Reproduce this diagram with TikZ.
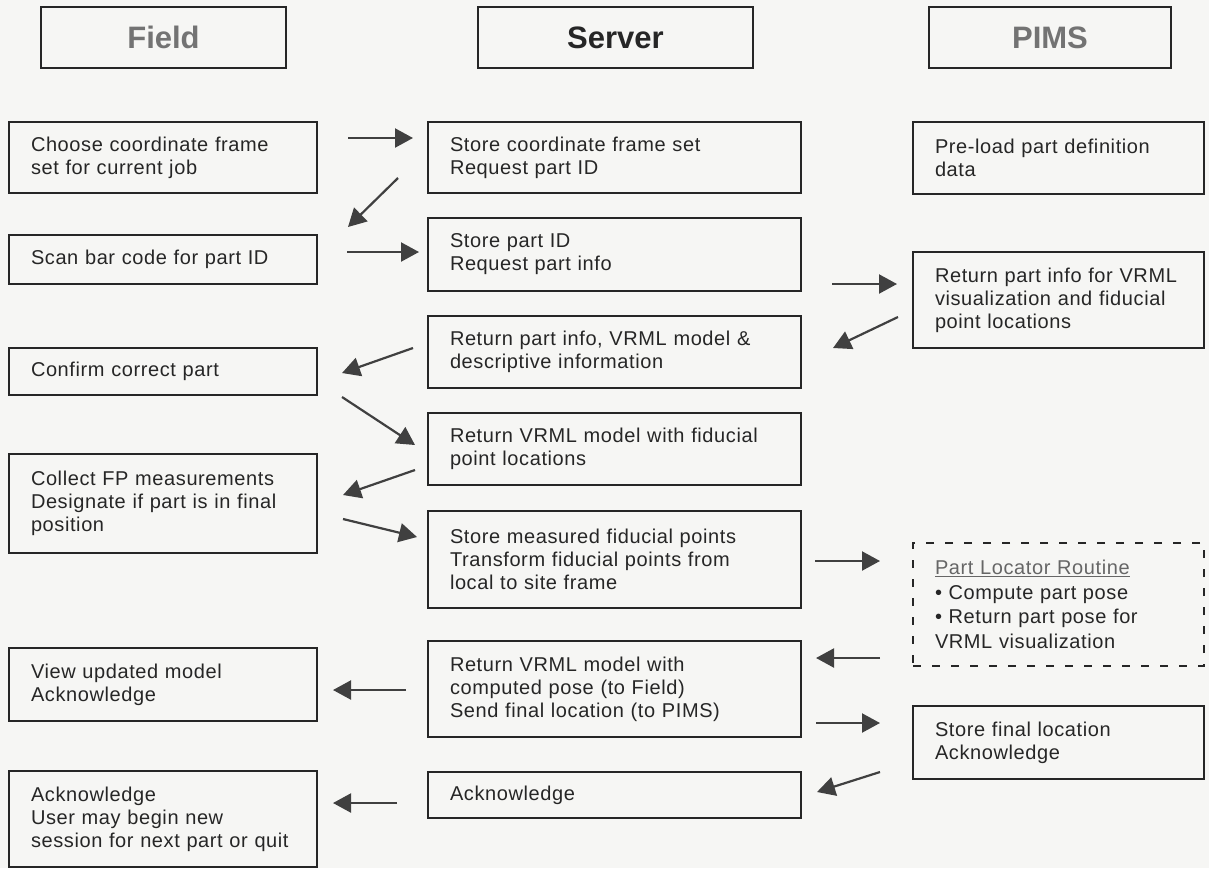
\documentclass[tikz,border=0pt]{standalone}
\usepackage{fontspec}
\setmainfont{Liberation Sans}
\newfontfamily\bodyfont{Liberation Sans}[LetterSpace=3.0]
\usetikzlibrary{arrows.meta,positioning}
\definecolor{paper}{RGB}{246,246,244}
\definecolor{ink}{RGB}{38,38,38}

\begin{document}
\begin{tikzpicture}[
  x=1pt, y=-1pt,
  box/.style={draw=ink, line width=2pt, outer sep=0pt, inner xsep=22pt,
              inner ysep=2pt, align=left, text=ink,
              font=\bodyfont\fontsize{20}{23}\selectfont},
  fieldbox/.style={box, text width=264pt},
  serverbox/.style={box, text width=329pt},
  pimsbox/.style={box, text width=247pt},
  hdr/.style={draw=ink, line width=2pt, outer sep=0pt, minimum height=61pt,
              font=\bfseries\fontsize{31}{36}\selectfont},
  arr/.style={-{Triangle[length=18pt,width=19pt]}, line width=2.2pt, draw=black!75}]
  \useasboundingbox (0,0) rectangle (1209,868);
  \fill[paper] (0,0) rectangle (1209,868);
  % column heads
  \node[hdr, minimum width=245pt, text=black!55] (hfield) at (163.5,37.5) {Field};
  \node[hdr, minimum width=275pt, text=ink] (hserver) at (615.5,37.5) {Server};
  \node[hdr, minimum width=242pt, text=black!55] (hpims) at (1050,37.5) {PIMS};
  % field
  \node[fieldbox, anchor=north west, minimum height=71pt] (f1) at (9,122)
    {Choose coordinate frame\\set for current job};
  \node[fieldbox, below=42pt of f1, minimum height=49pt] (f2) {Scan bar code for part ID};
  \node[fieldbox, below=64pt of f2, minimum height=47pt] (f3) {Confirm correct part};
  \node[fieldbox, below=59pt of f3, minimum height=99pt] (f4)
    {Collect FP measurements\\Designate if part is in final\\position};
  \node[fieldbox, below=95pt of f4, minimum height=73pt] (f5)
    {View updated model\\Acknowledge};
  \node[fieldbox, below=50pt of f5, minimum height=96pt] (f6)
    {Acknowledge\\User may begin new\\session for next part or quit};
  % server
  \node[serverbox, anchor=north west, minimum height=71pt] (s1) at (428,122)
    {Store coordinate frame set\\Request part ID};
  \node[serverbox, below=25pt of s1, minimum height=73pt] (s2)
    {Store part ID\\Request part info};
  \node[serverbox, below=25pt of s2, minimum height=72pt] (s3)
    {Return part info, VRML model \&\\descriptive information};
  \node[serverbox, below=25pt of s3, minimum height=72pt] (s4)
    {Return VRML model with fiducial\\point locations};
  \node[serverbox, below=26pt of s4, minimum height=97pt] (s5)
    {Store measured fiducial points\\Transform fiducial points from\\local to site frame};
  \node[serverbox, below=33pt of s5, minimum height=96pt] (s6)
    {Return VRML model with\\computed pose (to Field)\\Send final location (to PIMS)};
  \node[serverbox, below=35pt of s6, minimum height=46pt] (s7) {Acknowledge};
  % pims
  \node[pimsbox, anchor=north west, minimum height=72pt] (p1) at (913,122)
    {Pre-load part definition\\data};
  \node[pimsbox, below=58pt of p1, minimum height=96pt] (p2)
    {Return part info for VRML\\visualization and fiducial\\point locations};
  \node[pimsbox, below=195pt of p2, minimum height=123pt, line width=1.6pt,
        dash pattern=on 8pt off 11pt,
        font=\bodyfont\fontsize{20}{24.5}\selectfont] (plr)
    {\textcolor{black!60}{\underline{Part Locator Routine}}\\
     \textbullet{} Compute part pose\\\textbullet{} Return part pose for\\VRML visualization};
  \node[pimsbox, below=40pt of plr, minimum height=73pt] (p3)
    {Store final location\\Acknowledge};
  % messages
  \draw[arr] ([shift={(31,-19.5)}]f1.east) -- ([shift={(-15,-19.5)}]s1.west);
  \draw[arr] ([shift={(-30,20.5)}]s1.west) -- ([shift={(31,-8)}]f2.north east);
  \draw[arr] ([shift={(30,-7.5)}]f2.east) -- ([shift={(-9,-2.5)}]s2.west);
  \draw[arr] ([shift={(31,29.5)}]s2.east) -- ([shift={(-16,-16)}]p2.west);
  \draw[arr] ([shift={(-15,17)}]p2.west) -- ([shift={(32,-4)}]s3.east);
  \draw[arr] ([shift={(-15,-4)}]s3.west) -- ([shift={(25,1.5)}]f3.east);
  \draw[arr] ([shift={(25,25.5)}]f3.east) -- ([shift={(-13,-4)}]s4.west);
  \draw[arr] ([shift={(-13,21)}]s4.west) -- ([shift={(26,-8.5)}]f4.east);
  \draw[arr] ([shift={(26,15.5)}]f4.east) -- ([shift={(-11,-22.5)}]s5.west);
  \draw[arr] ([shift={(14,1.5)}]s5.east) -- ([shift={(-33,-43.5)}]plr.west);
  \draw[arr] ([shift={(-33,53.5)}]plr.west) -- ([shift={(15,-31)}]s6.east);
  \draw[arr] ([shift={(-22,1)}]s6.west) -- ([shift={(16,5.5)}]f5.east);
  \draw[arr] ([shift={(15,34)}]s6.east) -- ([shift={(-33,-19.5)}]p3.west);
  \draw[arr] ([shift={(-33,29.5)}]p3.west) -- ([shift={(16,-3)}]s7.east);
  \draw[arr] ([shift={(-31,8)}]s7.west) -- ([shift={(16,-16)}]f6.east);
\end{tikzpicture}
\end{document}
